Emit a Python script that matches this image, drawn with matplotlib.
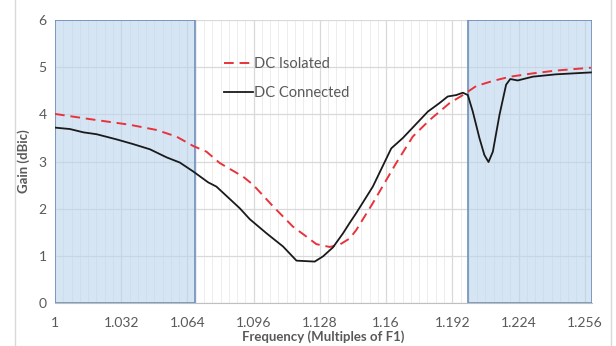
import matplotlib.pyplot as plt
from matplotlib.ticker import MultipleLocator
from matplotlib.lines import Line2D

# DC Isolated (red dashed)
iso_f = [1.0, 1.0169, 1.0362, 1.0491, 1.0587, 1.0668, 1.0732, 1.0796, 1.0909, 1.0957,
         1.1054, 1.1150, 1.1215, 1.1263, 1.1327, 1.1376, 1.1424, 1.1456, 1.1536,
         1.1649, 1.1729, 1.1810, 1.1907, 1.1971, 1.2035, 1.2116, 1.2200, 1.2309,
         1.2422, 1.2590]
iso_gain = [4.01, 3.90, 3.78, 3.67, 3.53, 3.33, 3.21, 2.97, 2.68, 2.51,
            2.05, 1.62, 1.41, 1.25, 1.19, 1.24, 1.37, 1.55, 2.12,
            2.97, 3.53, 3.88, 4.24, 4.41, 4.60, 4.71, 4.80, 4.87,
            4.93, 4.99]

# DC Connected (black solid)
con_f = [1.0, 1.0072, 1.0137, 1.0201, 1.0298, 1.0378, 1.0459, 1.0539, 1.0603, 1.0668,
         1.0740, 1.0780, 1.0893, 1.0941, 1.1022, 1.1102, 1.1167, 1.1255, 1.1295,
         1.1343, 1.1392, 1.1424, 1.1456, 1.1536, 1.1625, 1.1681, 1.1802, 1.1858,
         1.1898, 1.1939, 1.1971, 1.1995, 1.2019, 1.2051, 1.2075, 1.2095, 1.2116,
         1.2148, 1.2180, 1.2200, 1.2236, 1.2309, 1.2422, 1.2590]
con_gain = [3.72, 3.69, 3.62, 3.58, 3.47, 3.37, 3.26, 3.09, 2.98, 2.79,
            2.56, 2.47, 2.01, 1.78, 1.48, 1.20, 0.90, 0.88, 0.99,
            1.18, 1.48, 1.70, 1.91, 2.47, 3.28, 3.50, 4.06, 4.24,
            4.38, 4.41, 4.46, 4.41, 4.06, 3.50, 3.14, 2.99, 3.21,
            3.99, 4.63, 4.75, 4.72, 4.80, 4.85, 4.89]

# shaded bands
bands = [(1.0, 1.0676), (1.1997, 1.2595)]

xticks = [1, 1.032, 1.064, 1.096, 1.128, 1.16, 1.192, 1.224, 1.256]
xticklabels = ['1', '1.032', '1.064', '1.096', '1.128', '1.16', '1.192', '1.224', '1.256']

plt.rcParams['font.family'] = ['Lato', 'DejaVu Sans']
gray = '#595959'

fig = plt.figure(figsize=(6.16, 3.46), dpi=100)
ax = fig.add_axes([0.0893, 0.124, 0.8717, 0.818])

# frame lines of the chart area
fig.add_artist(Line2D([15/616, 15/616], [0, 1], color='#d9d9d9', lw=1))
fig.add_artist(Line2D([611/616, 611/616], [0, 1], color='#d9d9d9', lw=1))

ax.set_xlim(1.0, 1.2595)
ax.set_ylim(0, 6)
ax.set_xticks(xticks)
ax.set_xticklabels(xticklabels)
ax.xaxis.set_minor_locator(MultipleLocator(0.004))
ax.set_yticks(range(7))

ax.grid(which='major', color='#d9d9d9', lw=0.9)
ax.grid(which='minor', axis='x', color='#ededed', lw=0.7)
ax.set_axisbelow(True)

for a, b in bands:
    ax.axvspan(a, b, facecolor='#bcd5ee', alpha=0.62, edgecolor='none', zorder=1)
    ax.axvspan(a, b, facecolor='none', edgecolor='#6e8fb8', lw=1.2, zorder=1.5)

ax.plot(iso_f, iso_gain, color='#e8333b', ls=(0, (5, 3)), lw=1.4, label='DC Isolated',
        zorder=3, solid_joinstyle='round', dash_joinstyle='round')
ax.plot(con_f, con_gain, color='#1a1a1a', lw=1.3, label='DC Connected', zorder=3,
        solid_joinstyle='round')

for s in ['top', 'right', 'left']:
    ax.spines[s].set_visible(False)
ax.spines['bottom'].set_color('#bfbfbf')
ax.tick_params(which='both', length=0, colors=gray, labelsize=10)
ax.tick_params(axis='x', pad=10)
ax.tick_params(axis='y', pad=6)

ax.set_xlabel('Frequency (Multiples of F1)', fontsize=9.5, fontweight='bold', color=gray, labelpad=1)
ax.set_ylabel('Gain (dBic)', fontsize=9.5, fontweight='bold', color=gray, labelpad=6)

leg = ax.legend(loc='upper left', bbox_to_anchor=(0.29, 0.915), frameon=False,
                fontsize=10.5, handlelength=2.0, handletextpad=0.1, labelspacing=1.0)
for t in leg.get_texts():
    t.set_color(gray)

fig.savefig('out.png', dpi=100)
